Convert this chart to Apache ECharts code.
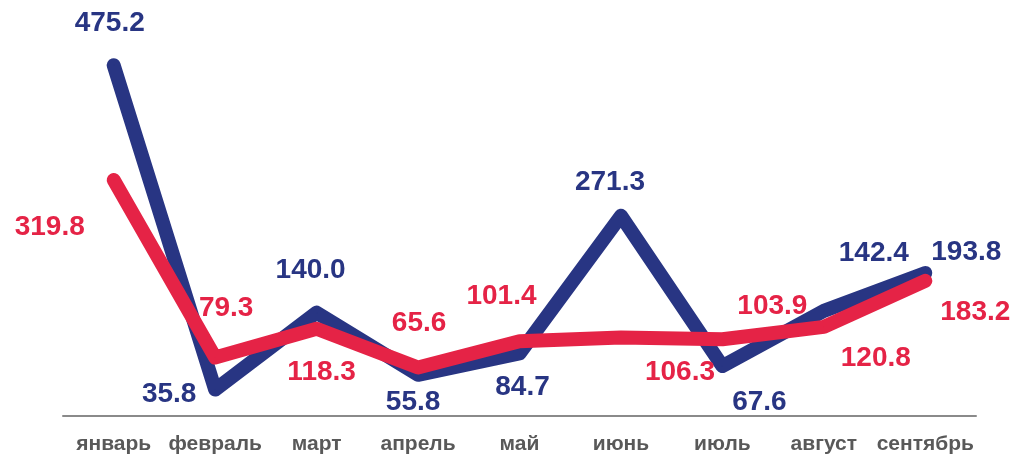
<!DOCTYPE html>
<html>
<head>
<meta charset="utf-8">
<script src="https://cdn.jsdelivr.net/npm/echarts@6/dist/echarts.min.js"></script>
<style>
html,body{margin:0;padding:0;background:#fff;}
#chart{width:1018px;height:455px;}
</style>
</head>
<body>
<div id="chart"></div>
<script>
var categories = ['январь','февраль','март','апрель','май','июнь','июль','август','сентябрь'];
var blueValues = [475.2, 35.8, 140.0, 55.8, 84.7, 271.3, 67.6, 142.4, 193.8];
var redValues  = [319.8, 79.3, 118.3, 65.6, 101.4, 106.3, 103.9, 120.8, 183.2];

// label offsets (style only) relative to each point
var blueLabelOffsets = [[-4,-42],[-46,5],[-6,-42],[-5,27],[3,34],[-11,-33],[37,36],[50,-58],[41,-21]];
var redLabelOffsets  = [[-64,47],[11,-49],[5,44],[1,-44],[-18,-45],[59,35],[50,-33],[52,31],[50,31]];

var BLUE = '#283583';
var RED = '#E52346';

function buildData(values, offsets) {
  return values.map(function (v, i) {
    return { value: v, label: { offset: offsets[i] } };
  });
}

function makeSeries(name, values, offsets, color, z) {
  return {
    name: name,
    type: 'line',
    data: buildData(values, offsets),
    symbol: 'circle',
    symbolSize: 1,
    z: z,
    itemStyle: { color: color },
    lineStyle: { color: color, width: 14, cap: 'round', join: 'round' },
    label: {
      show: true,
      position: 'inside',
      align: 'center',
      verticalAlign: 'middle',
      color: color,
      fontFamily: 'Liberation Sans, Arial, sans-serif',
      fontWeight: 'bold',
      fontSize: 28,
      formatter: function (p) { return p.value.toFixed(1); }
    },
    emphasis: { disabled: true },
    animation: false
  };
}

var chart = echarts.init(document.getElementById('chart'), null, { renderer: 'canvas' });
chart.setOption({
  backgroundColor: '#ffffff',
  animation: false,
  grid: { left: 63, right: 42, top: 47, bottom: 37, containLabel: false },
  xAxis: {
    type: 'category',
    data: categories,
    boundaryGap: true,
    axisLine: { show: true, lineStyle: { color: '#8a8a8a', width: 2 } },
    axisTick: { show: false },
    axisLabel: {
      interval: 0,
      color: '#595959',
      fontFamily: 'Liberation Sans, Arial, sans-serif',
      fontWeight: 'bold',
      fontSize: 21,
      margin: 18
    }
  },
  yAxis: {
    type: 'value',
    min: 0,
    max: 500,
    show: false,
    splitLine: { show: false }
  },
  series: [
    makeSeries('blue', blueValues, blueLabelOffsets, BLUE, 2),
    makeSeries('red', redValues, redLabelOffsets, RED, 3)
  ]
});
</script>
</body>
</html>
